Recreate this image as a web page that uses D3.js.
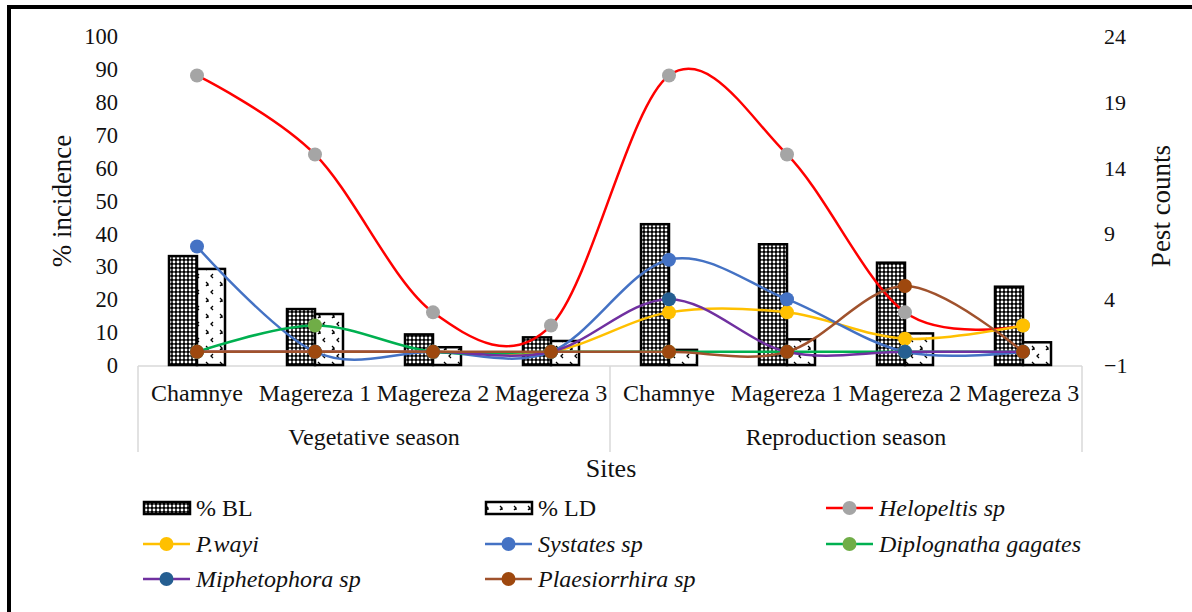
<!DOCTYPE html>
<html><head><meta charset="utf-8">
<script src="https://cdn.jsdelivr.net/npm/d3@7/dist/d3.min.js"></script>
<style>html,body{margin:0;padding:0;background:#fff;}svg{display:block;}text{font-family:"Liberation Serif","Times New Roman",serif;}</style>
</head><body>
<svg id="c" width="1192" height="612"></svg>
<script>
const sites = ["Chamnye","Magereza 1","Magereza 2","Magereza 3","Chamnye","Magereza 1","Magereza 2","Magereza 3"];
const seasons = ["Vegetative season","Reproduction season"];
const pctBL = [33.1, 17.0, 9.3, 8.4, 42.8, 36.7, 31.1, 23.8];
const pctLD = [29.2, 15.5, 5.4, 7.3, 4.6, 7.8, 9.6, 6.9];
const helopeltis = [21, 15, 3, 2, 21, 15, 3, 2];
const pwayi = [0, 0, 0, 0, 3, 3, 1, 2];
const systates = [8, 0, 0, 0, 7, 4, 0, 0];
const diplognatha = [0, 2, 0, 0, 0, 0, 0, 0];
const miphetophora = [0, 0, 0, 0, 4, 0, 0, 0];
const plaesiorrhira = [0, 0, 0, 0, 0, 0, 5, 0];
const leftTicks = [0,10,20,30,40,50,60,70,80,90,100];
const rightTicks = [-1,4,9,14,19,24];

const lineSeries = [
  {name:"Helopeltis sp", values:helopeltis, line:"#FF0000", marker:"#A5A5A5"},
  {name:"P.wayi", values:pwayi, line:"#FFC000", marker:"#FFC000"},
  {name:"Systates sp", values:systates, line:"#4472C4", marker:"#4472C4"},
  {name:"Diplognatha gagates", values:diplognatha, line:"#00B050", marker:"#70AD47"},
  {name:"Miphetophora sp", values:miphetophora, line:"#7030A0", marker:"#255E91"},
  {name:"Plaesiorrhira sp", values:plaesiorrhira, line:"#A0522D", marker:"#9E480E"}
];

const FONT = "Liberation Serif";
const svg = d3.select("#c");
const defs = svg.append("defs");
// dense chain-like pattern for %BL
const p1 = defs.append("pattern").attr("id","pBL").attr("patternUnits","userSpaceOnUse").attr("width",4).attr("height",4);
p1.append("rect").attr("width",4).attr("height",4).attr("fill","#000");
p1.append("circle").attr("cx",2).attr("cy",2).attr("r",1.45).attr("fill","#fff");
// sparse pattern for %LD
const p2 = defs.append("pattern").attr("id","pLD").attr("patternUnits","userSpaceOnUse").attr("width",14).attr("height",16);
p2.append("rect").attr("width",14).attr("height",16).attr("fill","#fff");
p2.append("path").attr("d","M3,2 L1,4 L3,6 M10,10 L12,12 L10,14 M12,12 L12,14").attr("stroke","#000").attr("stroke-width",1.3).attr("fill","none");

// border
svg.append("path").attr("d","M9,612 L9,7 L1192,7").attr("fill","none").attr("stroke","#000").attr("stroke-width",4);

const x0 = 138, x1 = 1082;
const x = d3.scaleBand().domain(d3.range(sites.length)).range([x0,x1]).paddingInner(0).paddingOuter(0);
const cx = i => x(i) + x.bandwidth()/2;
const yL = d3.scaleLinear().domain([0,100]).range([365,36]);
const yR = d3.scaleLinear().domain([-1,24]).range([365,36]);
const bw = 28;

// axes
const gl = svg.append("g").attr("transform","translate(119,0)")
  .call(d3.axisLeft(yL).tickValues(leftTicks).tickSize(0).tickPadding(1));
gl.select(".domain").remove();
gl.selectAll("text").attr("font-family",FONT).attr("font-size",22.5).attr("fill","#111").attr("dy","0.34em");
const gr = svg.append("g").attr("transform","translate(1103,0)")
  .call(d3.axisRight(yR).tickValues(rightTicks).tickSize(0).tickPadding(1));
gr.select(".domain").remove();
gr.selectAll("text").attr("font-family",FONT).attr("font-size",22).attr("fill","#111").attr("dy","0.34em");

svg.append("text").attr("transform","translate(71,201) rotate(-90)").attr("text-anchor","middle")
  .attr("font-family",FONT).attr("font-size",27).attr("fill","#111").text("% incidence");
svg.append("text").attr("transform","translate(1170,206) rotate(-90)").attr("text-anchor","middle")
  .attr("font-family",FONT).attr("font-size",27).attr("fill","#111").text("Pest counts");

// category axis
const ax = svg.append("g").attr("stroke","#D9D9D9").attr("stroke-width",1.5);
ax.append("line").attr("x1",x0).attr("x2",x1).attr("y1",366).attr("y2",366);
[0,4,8].forEach(i=>{
  const xx = i<8 ? x(i) : x1;
  ax.append("line").attr("x1",xx).attr("x2",xx).attr("y1",366).attr("y2",452);
});
svg.append("g").selectAll("text").data(sites).join("text")
  .attr("x",(d,i)=>cx(i)).attr("y",401).attr("text-anchor","middle")
  .attr("font-family",FONT).attr("font-size",24).attr("fill","#111").text(d=>d);
svg.append("g").selectAll("text").data(seasons).join("text")
  .attr("x",(d,i)=>(x(i*4)+ (i===0?x(4):x1))/2).attr("y",445).attr("text-anchor","middle")
  .attr("font-family",FONT).attr("font-size",24).attr("fill","#111").text(d=>d);
svg.append("text").attr("x",611).attr("y",477).attr("text-anchor","middle")
  .attr("font-family",FONT).attr("font-size",26).attr("fill","#111").text("Sites");

// bars
const bars = svg.append("g");
bars.selectAll("rect.bl").data(pctBL).join("rect").attr("class","bl")
  .attr("x",(d,i)=>cx(i)-bw).attr("width",bw).attr("y",d=>yL(d)).attr("height",d=>yL(0)-yL(d))
  .attr("fill","url(#pBL)").attr("stroke","#000").attr("stroke-width",2.5);
bars.selectAll("rect.ld").data(pctLD).join("rect").attr("class","ld")
  .attr("x",(d,i)=>cx(i)).attr("width",bw).attr("y",d=>yL(d)).attr("height",d=>yL(0)-yL(d))
  .attr("fill","url(#pLD)").attr("stroke","#000").attr("stroke-width",2.5);

// lines
const lineGen = d3.line().x((d,i)=>cx(i)).y(d=>yR(d)).curve(d3.curveCardinal.tension(0));
lineSeries.forEach(s=>{
  const g = svg.append("g");
  g.append("path").attr("d",lineGen(s.values)).attr("fill","none").attr("stroke",s.line).attr("stroke-width",2.5);
  g.selectAll("circle").data(s.values).join("circle").attr("cx",(d,i)=>cx(i)).attr("cy",d=>yR(d)).attr("r",7).attr("fill",s.marker);
});

// legend
const legendItems = [
  {type:"bar", fill:"url(#pBL)", name:"% BL", italic:false},
  {type:"bar", fill:"url(#pLD)", name:"% LD", italic:false},
  ...lineSeries.map(s=>({type:"line", line:s.line, marker:s.marker, name:s.name, italic:true}))
];
const colX = [143, 485, 826];
const rowY = [508, 544, 579];
legendItems.forEach((it,k)=>{
  const lx = colX[k%3], ly = rowY[Math.floor(k/3)];
  const g = svg.append("g");
  if(it.type==="bar"){
    g.append("rect").attr("x",lx+1).attr("y",ly-6).attr("width",46).attr("height",12).attr("fill",it.fill).attr("stroke","#000").attr("stroke-width",2.5);
  } else {
    g.append("line").attr("x1",lx).attr("x2",lx+47).attr("y1",ly).attr("y2",ly).attr("stroke",it.line).attr("stroke-width",2.5);
    g.append("circle").attr("cx",lx+23.5).attr("cy",ly).attr("r",7).attr("fill",it.marker);
  }
  g.append("text").attr("x",lx+53).attr("y",ly+8).attr("font-family",FONT).attr("font-size",24).attr("fill","#111")
    .attr("font-style",it.italic?"italic":"normal").text(it.name);
});
</script>
</body></html>
